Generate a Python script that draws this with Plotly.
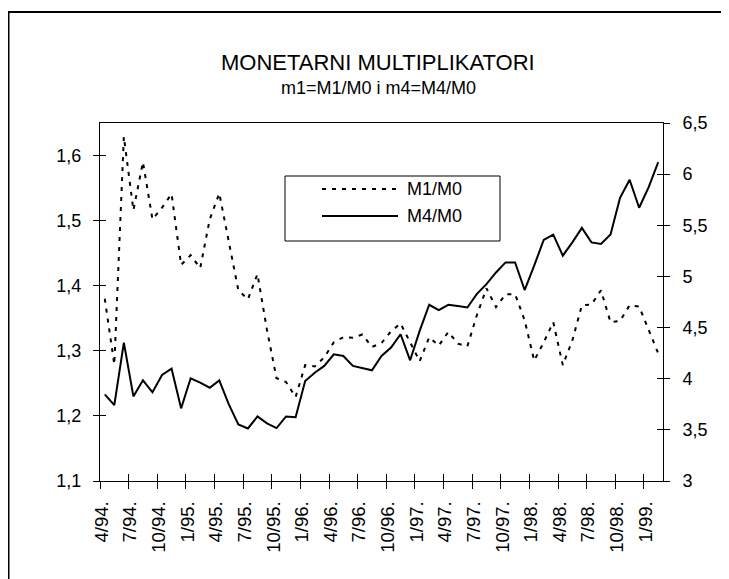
import plotly.graph_objects as go

# ---------------- data ----------------
categories = [
    "4/94.", "5/94.", "6/94.", "7/94.", "8/94.", "9/94.", "10/94.", "11/94.", "12/94.",
    "1/95.", "2/95.", "3/95.", "4/95.", "5/95.", "6/95.", "7/95.", "8/95.", "9/95.",
    "10/95.", "11/95.", "12/95.",
    "1/96.", "2/96.", "3/96.", "4/96.", "5/96.", "6/96.", "7/96.", "8/96.", "9/96.",
    "10/96.", "11/96.", "12/96.",
    "1/97.", "2/97.", "3/97.", "4/97.", "5/97.", "6/97.", "7/97.", "8/97.", "9/97.",
    "10/97.", "11/97.", "12/97.",
    "1/98.", "2/98.", "3/98.", "4/98.", "5/98.", "6/98.", "7/98.", "8/98.", "9/98.",
    "10/98.", "11/98.", "12/98.",
    "1/99.", "2/99.",
]

m1_m0 = [
    1.380, 1.279, 1.629, 1.516, 1.590, 1.502, 1.520, 1.541, 1.432,
    1.447, 1.427, 1.502, 1.542, 1.470, 1.393, 1.379, 1.418, 1.332,
    1.258, 1.252, 1.229,
    1.278, 1.276, 1.290, 1.313, 1.321, 1.320, 1.325, 1.306, 1.312,
    1.330, 1.342, 1.313,
    1.284, 1.321, 1.308, 1.329, 1.311, 1.307, 1.355, 1.396, 1.367,
    1.387, 1.387, 1.347,
    1.285, 1.313, 1.344, 1.278, 1.316, 1.370, 1.371, 1.393, 1.344,
    1.346, 1.370, 1.368,
    1.332, 1.296,
]

m4_m0 = [
    3.847, 3.742, 4.353, 3.827, 3.984, 3.867, 4.036, 4.098, 3.710,
    4.004, 3.961, 3.912, 3.984, 3.749, 3.553, 3.514, 3.631, 3.563,
    3.517, 3.631, 3.624,
    3.977, 4.059, 4.125, 4.239, 4.222, 4.125, 4.102, 4.082, 4.222,
    4.304, 4.435, 4.180,
    4.468, 4.723, 4.671, 4.723, 4.710, 4.696, 4.830, 4.925, 5.039,
    5.137, 5.137, 4.867,
    5.105, 5.357, 5.409, 5.203, 5.333, 5.475, 5.333, 5.318, 5.409,
    5.769, 5.945, 5.671,
    5.873, 6.118,
]

left_ticks = [1.1, 1.2, 1.3, 1.4, 1.5, 1.6]
left_labels = ["1,1", "1,2", "1,3", "1,4", "1,5", "1,6"]
right_ticks = [3, 3.5, 4, 4.5, 5, 5.5, 6, 6.5]
right_labels = ["3", "3,5", "4", "4,5", "5", "5,5", "6", "6,5"]

title_text = "MONETARNI MULTIPLIKATORI"
subtitle_text = "m1=M1/M0 i m4=M4/M0"
series_names = ["M1/M0", "M4/M0"]

# ---------------- figure ----------------
FONT = "Liberation Sans, Arial, sans-serif"
DOT = "4px,6px"
n = len(categories)

# page body has an 8px default margin -> figure is placed at (8, 8)
OX, OY = 8, 8
W, H = 729 - OX, 579 - OY
L, T = 92, 115
R, B = 66, 98
pw, ph = W - L - R, H - T - B


def px(x):  # page pixel -> paper x
    return (x - OX - L) / pw


def py(y):  # page pixel -> paper y
    return (H - B - (y - OY)) / ph


fig = go.Figure()
fig.add_trace(go.Scatter(
    x=categories, y=m1_m0, name=series_names[0], mode="lines",
    line=dict(color="black", width=2, dash=DOT), xaxis="x", yaxis="y",
    hoverinfo="skip",
))
fig.add_trace(go.Scatter(
    x=categories, y=m4_m0, name=series_names[1], mode="lines",
    line=dict(color="black", width=2), xaxis="x", yaxis="y2",
    hoverinfo="skip",
))
# empty helper traces so the inner-tick overlay axes get drawn
fig.add_trace(go.Scatter(x=[], y=[], xaxis="x2", yaxis="y3", showlegend=False, hoverinfo="skip"))
fig.add_trace(go.Scatter(x=[], y=[], xaxis="x2", yaxis="y4", showlegend=False, hoverinfo="skip"))

shapes = [
    # outer chart border
    dict(type="rect", xref="paper", yref="paper", x0=px(8.5), x1=px(722), y0=py(640), y1=py(12),
         line=dict(color="black", width=2), fillcolor="rgba(0,0,0,0)", layer="above"),
    # legend box
    dict(type="rect", xref="paper", yref="paper", x0=px(285), x1=px(500), y0=py(241), y1=py(176),
         line=dict(color="black", width=1), fillcolor="white", layer="above"),
    dict(type="line", xref="paper", yref="paper", x0=px(322), x1=px(398), y0=py(189), y1=py(189),
         line=dict(color="black", width=2, dash=DOT), layer="above"),
    dict(type="line", xref="paper", yref="paper", x0=px(322), x1=px(398), y0=py(216), y1=py(216),
         line=dict(color="black", width=2), layer="above"),
]

annotations = [
    dict(text=title_text, xref="paper", yref="paper", x=px(378), y=py(62), showarrow=False,
         xanchor="center", yanchor="middle", font=dict(size=22, family=FONT, color="black")),
    dict(text=subtitle_text, xref="paper", yref="paper", x=px(378), y=py(88), showarrow=False,
         xanchor="center", yanchor="middle", font=dict(size=18, family=FONT, color="black")),
    dict(text=series_names[0], xref="paper", yref="paper", x=px(405), y=py(189), showarrow=False,
         xanchor="left", yanchor="middle", font=dict(size=18, family=FONT, color="black")),
    dict(text=series_names[1], xref="paper", yref="paper", x=px(405), y=py(216), showarrow=False,
         xanchor="left", yanchor="middle", font=dict(size=18, family=FONT, color="black")),
]

boundary_ticks = [i - 0.5 for i in range(0, n, 3)]

fig.update_layout(
    width=W, height=H,
    margin=dict(l=L, r=R, t=T, b=B, pad=0),
    paper_bgcolor="white", plot_bgcolor="white",
    showlegend=False,
    font=dict(family=FONT, color="black", size=18),
    shapes=shapes,
    annotations=annotations,
    xaxis=dict(
        type="category", categoryorder="array", categoryarray=categories,
        range=[-0.5, n - 0.5],
        tickmode="linear", tick0=0, dtick=3, tickson="boundaries",
        ticks="outside", ticklen=7, tickwidth=1, tickcolor="black",
        tickangle=-90, tickfont=dict(size=18.5), ticklabelstandoff=12, ticklabelshift=-3,
        showline=True, linecolor="black", linewidth=1, mirror=True,
        showgrid=False, zeroline=False,
    ),
    xaxis2=dict(
        overlaying="x", anchor="y", type="linear", range=[-0.5, n - 0.5],
        tickmode="array", tickvals=boundary_ticks, showticklabels=False,
        ticks="inside", ticklen=7, tickwidth=1, tickcolor="black",
        showline=False, showgrid=False, zeroline=False,
    ),
    yaxis=dict(
        range=[1.1, 1.65], tickmode="array", tickvals=left_ticks, ticktext=left_labels,
        ticks="outside", ticklen=6, tickwidth=1, tickcolor="black",
        ticklabelstandoff=8, tickfont=dict(size=18),
        showline=True, linecolor="black", linewidth=1,
        showgrid=False, zeroline=False,
    ),
    yaxis2=dict(
        overlaying="y", side="right", anchor="x",
        range=[3, 6.5], tickmode="array", tickvals=right_ticks, ticktext=right_labels,
        ticks="outside", ticklen=6, tickwidth=1, tickcolor="black",
        ticklabelstandoff=9, tickfont=dict(size=18),
        showline=True, linecolor="black", linewidth=1,
        showgrid=False, zeroline=False,
    ),
    yaxis3=dict(
        overlaying="y", side="left", anchor="x2",
        range=[1.1, 1.65], tickmode="array", tickvals=left_ticks, showticklabels=False,
        ticks="inside", ticklen=6, tickwidth=1, tickcolor="black",
        showline=False, showgrid=False, zeroline=False,
    ),
    yaxis4=dict(
        overlaying="y", side="right", anchor="x2",
        range=[3, 6.5], tickmode="array", tickvals=right_ticks, showticklabels=False,
        ticks="inside", ticklen=6, tickwidth=1, tickcolor="black",
        showline=False, showgrid=False, zeroline=False,
    ),
)

fig.write_html("out.html")
